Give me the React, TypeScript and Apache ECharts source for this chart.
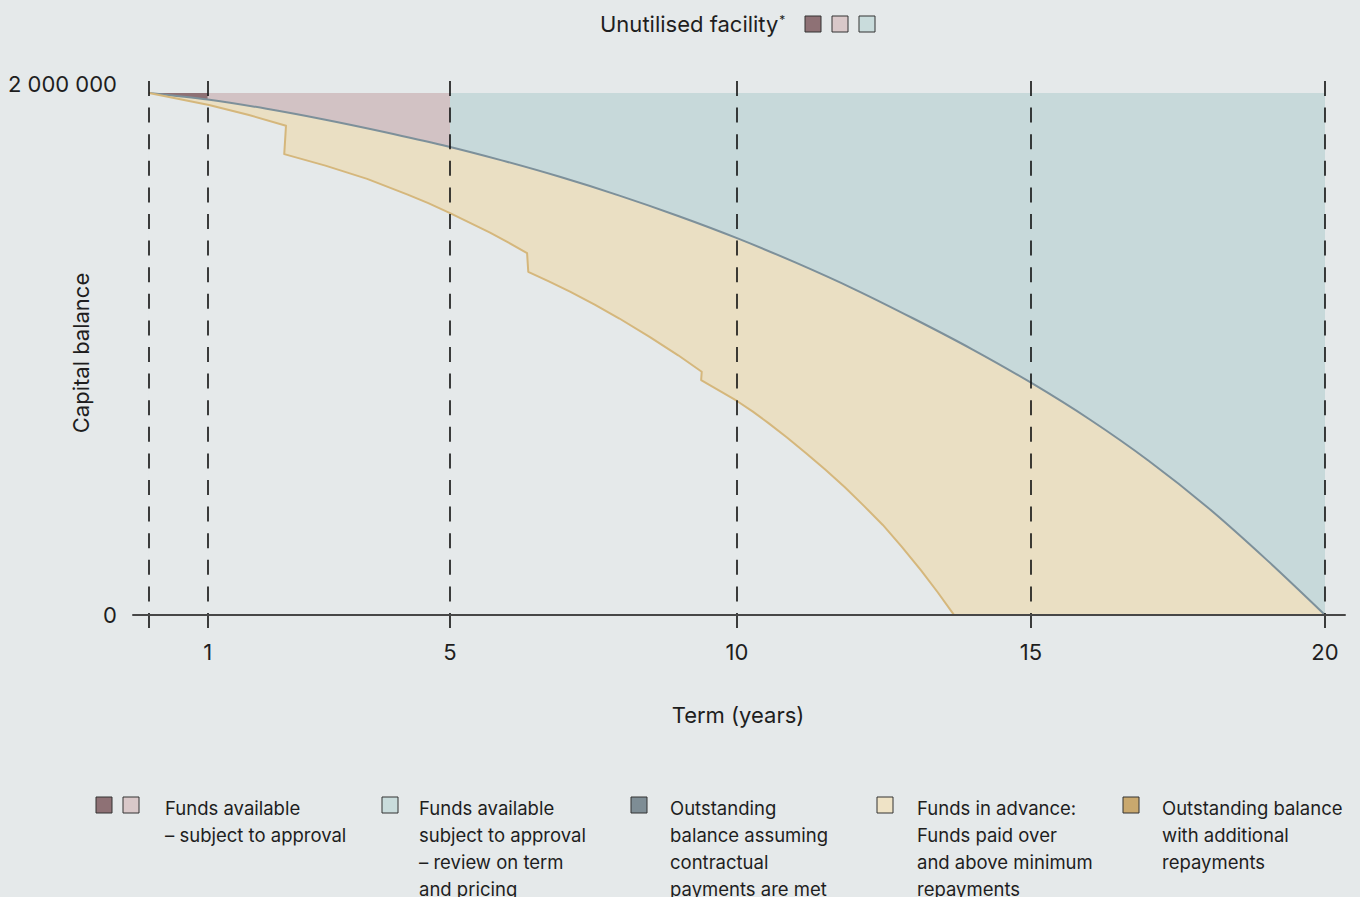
import React, { useEffect, useRef } from "react";
import * as echarts from "echarts";

// ---- Data ----
const tickValues = [0, 1, 5.12, 10, 15, 20];
const tickLabels = ["", "1", "5", "10", "15", "20"];
const yTickValues = [0, 2000000];
const yTickLabels = ["0", "2 000 000"];
const facilityLimit = 2000000;

// contractual (minimum repayment) outstanding balance, per year
const contractualYears = [0, 1, 2, 3, 4, 5, 6, 7, 8, 9, 10, 11, 12, 13, 14, 15, 16, 17, 18, 19, 20];
const contractualBalance = [
  2000000, 1975000, 1940000, 1898000, 1851000, 1800000, 1742000, 1678000, 1607000, 1529000,
  1444000, 1350000, 1248000, 1136000, 1018000, 890000, 749000, 591000, 413000, 213000, 0,
];

// outstanding balance with additional (lump-sum) repayments
const additionalYears = [
  0, 1.02, 1.7, 2.33, 2.3, 3.0, 3.71, 4.4, 4.75, 5.12, 5.8, 6.1, 6.43, 6.45, 6.8, 7.16, 7.58, 8.0,
  8.52, 9.0, 9.4, 9.39, 10.0, 10.27, 10.53, 10.85, 11.18, 11.5, 11.83, 12.15, 12.48, 12.8, 13.13,
  13.41, 13.69,
];
const additionalBalance = [
  2000000, 1954000, 1916000, 1875000, 1766000, 1722000, 1671000, 1611000, 1578000, 1540000,
  1465000, 1429000, 1387000, 1315000, 1278000, 1239000, 1189000, 1136000, 1065000, 995000, 932000,
  900000, 820000, 779000, 736000, 680000, 619000, 557000, 490000, 420000, 345000, 262000, 171000,
  88000, 0,
];

// unutilised facility regions (bounded by tick positions)
const regionStarts = [0, 1, 5.12];
const regionEnds = [1, 5.12, 20];
const regionColors = ["#8e7175", "#d2c2c4", "#c7d9da"];

const legendSwatches = [
  ["#8e7175", "#d9c8c9"],
  ["#c9dcdc"],
  ["#7e8d95"],
  ["#efe3c6"],
  ["#c9a86e"],
];
const legendTexts = [
  ["Funds available", "– subject to approval"],
  ["Funds available", "subject to approval", "– review on term", "and pricing"],
  ["Outstanding", "balance assuming", "contractual", "payments are met"],
  ["Funds in advance:", "Funds paid over", "and above minimum", "repayments"],
  ["Outstanding balance", "with additional", "repayments"],
];
const legendSwatchX = [96, 382, 631, 877, 1123];
const legendTextX = [165, 419, 670, 917, 1162];

const titleSwatches = ["#8e7175", "#d9c8c9", "#c9dcdc"];

const BG = "#e5e9ea";
const FONT = "Inter, 'Noto Sans', sans-serif";
const TXT = "#1e1e1e";
const AXIS_FS = 22;

export default function App() {
  const ref = useRef<HTMLDivElement>(null);

  useEffect(() => {
    if (!ref.current) return;
    const chart = echarts.init(ref.current, undefined, { renderer: "svg" });

    const series: any[] = [];
    regionStarts.forEach((s, i) => {
      series.push({
        type: "line",
        name: "facility" + i,
        data: [
          [s, facilityLimit],
          [regionEnds[i], facilityLimit],
        ],
        symbol: "none",
        lineStyle: { width: 0, opacity: 0 },
        areaStyle: { color: regionColors[i], opacity: 1 },
        z: 1,
        silent: true,
      });
    });
    series.push({
      type: "line",
      name: "contractual",
      data: contractualYears.map((y, i) => [y, contractualBalance[i]]),
      symbol: "none",
      smooth: 0.3,
      lineStyle: { color: "#7d909a", width: 2 },
      areaStyle: { color: "#eadfc3", opacity: 1 },
      z: 2,
      silent: true,
    });
    series.push({
      type: "line",
      name: "additional",
      data: additionalYears.map((y, i) => [y, additionalBalance[i]]),
      symbol: "none",
      smooth: false,
      lineStyle: { color: "#d5b77c", width: 2, join: "round" },
      areaStyle: { color: BG, opacity: 1 },
      z: 3,
      silent: true,
    });
    series.push({
      type: "line",
      name: "grid",
      data: [],
      z: 6,
      silent: true,
      markLine: {
        silent: true,
        symbol: ["none", "none"],
        label: { show: false },
        lineStyle: { color: "#111", width: 1.6, type: [15, 11.6] },
        data: tickValues.map((v) => ({ xAxis: v })),
      },
    });

    const graphic: any[] = [];
    // top title
    graphic.push({
      type: "text",
      left: 600,
      top: 13,
      style: {
        text: "{a|Unutilised facility}{b|*}",
        rich: {
          a: { fontSize: AXIS_FS, fontFamily: FONT, fill: TXT, verticalAlign: "bottom" },
          b: { fontSize: 12, fontFamily: FONT, fill: TXT, verticalAlign: "bottom", padding: [0, 0, 10, 1] },
        },
      },
    });
    titleSwatches.forEach((c, i) => {
      graphic.push({
        type: "rect",
        shape: { x: 805 + i * 27, y: 16, width: 16, height: 16 },
        style: { fill: c, stroke: "#333", lineWidth: 1 },
      });
    });
    // axis names
    graphic.push({
      type: "text",
      x: 81,
      y: 353,
      rotation: Math.PI / 2,
      style: {
        text: "Capital balance",
        fontSize: AXIS_FS,
        fontFamily: FONT,
        fill: TXT,
        align: "center",
        verticalAlign: "middle",
      },
    });
    graphic.push({
      type: "text",
      x: 738,
      y: 715,
      style: {
        text: "Term (years)",
        fontSize: AXIS_FS,
        fontFamily: FONT,
        fill: TXT,
        align: "center",
        verticalAlign: "middle",
      },
    });
    // bottom legend
    legendSwatches.forEach((cols, i) => {
      cols.forEach((c, j) => {
        graphic.push({
          type: "rect",
          shape: { x: legendSwatchX[i] + j * 27, y: 797, width: 16, height: 16 },
          style: { fill: c, stroke: "#333", lineWidth: 1 },
        });
      });
      graphic.push({
        type: "text",
        x: legendTextX[i],
        y: 794.5,
        style: {
          text: legendTexts[i].join("\n"),
          fontSize: 18.5,
          lineHeight: 27,
          fontFamily: FONT,
          fill: TXT,
          align: "left",
          verticalAlign: "top",
        },
      });
    });

    chart.setOption({
      animation: false,
      backgroundColor: BG,
      grid: { left: 133, right: 15, top: 80, bottom: 269, containLabel: false },
      xAxis: {
        type: "value",
        min: -0.272,
        max: 20.34,
        z: 10,
        axisLine: { onZero: true, lineStyle: { color: "#474747", width: 2 } },
        axisTick: { show: false },
        splitLine: { show: false },
        axisLabel: {
          customValues: tickValues.slice(1),
          margin: 13,
          fontSize: AXIS_FS,
          fontFamily: FONT,
          color: TXT,
          formatter: (v: number) => {
            let best = 0;
            tickValues.forEach((t, i) => {
              if (Math.abs(t - v) < Math.abs(tickValues[best] - v)) best = i;
            });
            return tickLabels[best];
          },
        },
      },
      yAxis: {
        type: "value",
        min: -50000,
        max: 2050000,
        axisLine: { show: false },
        axisTick: { show: false },
        splitLine: { show: false },
        axisLabel: {
          customValues: yTickValues,
          margin: 16,
          fontSize: AXIS_FS,
          fontFamily: FONT,
          color: TXT,
          formatter: (v: number) => {
            const i = yTickValues.indexOf(v);
            const label = i >= 0 ? yTickLabels[i] : "";
            return v === facilityLimit ? "{top|" + label + "}" : "{base|" + label + "}";
          },
          rich: {
            top: { fontSize: AXIS_FS, fontFamily: FONT, color: TXT, padding: [0, 0, 18, 0] },
            base: { fontSize: AXIS_FS, fontFamily: FONT, color: TXT },
          },
        },
      },
      series,
      graphic,
    });

    return () => chart.dispose();
  }, []);

  return (
    <div
      ref={ref}
      style={{ position: "fixed", left: 0, top: 0, width: 1360, height: 897, background: BG }}
    />
  );
}
